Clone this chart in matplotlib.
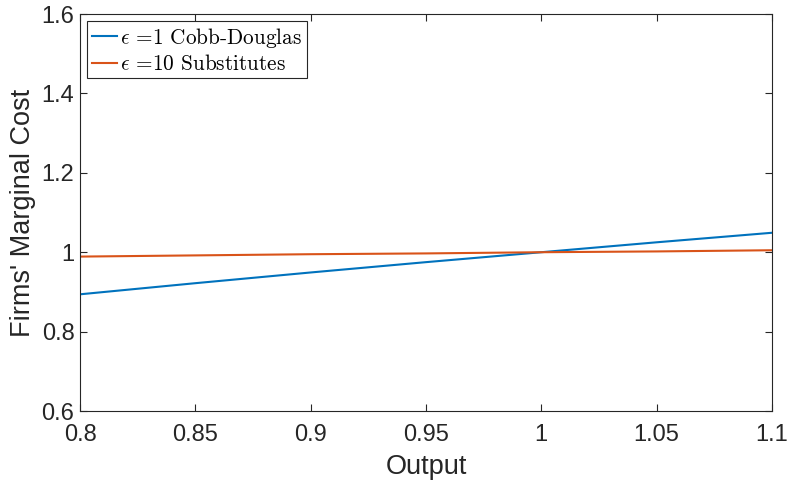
import numpy as np
import matplotlib.pyplot as plt

# values
output = [0.8, 0.85, 0.9, 0.95, 1.0, 1.05, 1.1]
mc_cobb = [0.894, 0.922, 0.949, 0.975, 1.0, 1.025, 1.049]
mc_subs = [0.989, 0.992, 0.995, 0.997, 1.0, 1.002, 1.005]
xticks = [0.8, 0.85, 0.9, 0.95, 1, 1.05, 1.1]
xticklabels = ['0.8', '0.85', '0.9', '0.95', '1', '1.05', '1.1']
yticks = [0.6, 0.8, 1.0, 1.2, 1.4, 1.6]
yticklabels = ['0.6', '0.8', '1', '1.2', '1.4', '1.6']

plt.rcParams['font.family'] = ['Liberation Sans', 'DejaVu Sans']
plt.rcParams['mathtext.fontset'] = 'cm'

fig = plt.figure(figsize=(7.89, 4.83), dpi=100)
ax = fig.add_axes([0.1014, 0.149, 0.877, 0.822])

ax.plot(output, mc_cobb, color='#0072BD', lw=1.5, label=r'$\epsilon$ =1 Cobb-Douglas')
ax.plot(output, mc_subs, color='#D95319', lw=1.5, label=r'$\epsilon$ =10 Substitutes')

ax.set_xlim(0.8, 1.1)
ax.set_ylim(0.6, 1.6)
ax.set_xticks(xticks)
ax.set_xticklabels(xticklabels)
ax.set_yticks(yticks)
ax.set_yticklabels(yticklabels)

axcol = '#262626'
for s in ax.spines.values():
    s.set_color(axcol)
    s.set_linewidth(0.8)
ax.tick_params(direction='in', length=5, width=0.8, color=axcol, labelcolor=axcol,
               labelsize=17, top=True, right=True)
ax.tick_params(axis='x', pad=9)
ax.tick_params(axis='y', pad=4)
ax.set_xlabel('Output', fontsize=19.5, color=axcol)
ax.set_ylabel("Firms' Marginal Cost", fontsize=19.5, color=axcol)
ax.xaxis.set_label_coords(0.5, -0.108)
ax.yaxis.set_label_coords(-0.063, 0.5)

leg = ax.legend(loc='upper left', prop={'family': 'cmr10', 'size': 15.3},
                fancybox=False, framealpha=1, edgecolor='#262626',
                handlelength=1.2, handletextpad=0.15, borderpad=0.2,
                labelspacing=0.2, borderaxespad=0.35)
leg.get_frame().set_linewidth(0.8)

fig.savefig('out.png', dpi=100)
